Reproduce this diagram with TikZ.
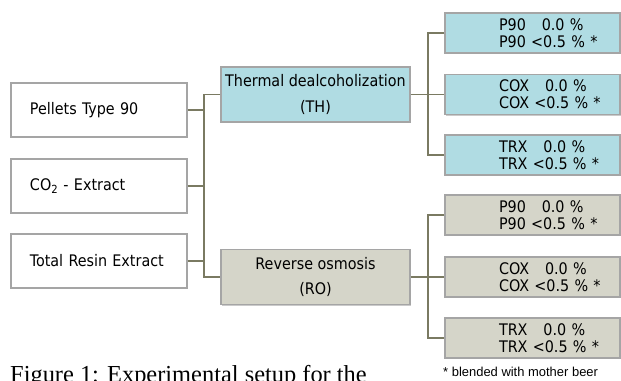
\documentclass[tikz,border=0pt]{standalone}
\usepackage{fontspec}
\setmainfont{DejaVu Sans Condensed}
\newfontfamily\capfont{Liberation Serif}
\newfontfamily\notefont{Liberation Sans}
\usetikzlibrary{shadows}
\definecolor{boxborder}{RGB}{165,165,165}
\definecolor{thfill}{RGB}{176,220,227}
\definecolor{rofill}{RGB}{213,213,201}
\definecolor{linkcol}{RGB}{122,122,98}
\tikzset{
  basebox/.style={draw=boxborder, line width=1.4bp, inner sep=0pt,
    drop shadow={shadow xshift=1.2bp, shadow yshift=-1.2bp, opacity=0.35, fill=black!60}},
  srcbox/.style={basebox, fill=white, minimum width=176bp, minimum height=54bp,
    text width=176bp, align=left, font=\fontsize{16}{18}\selectfont},
  procbox/.style={basebox, minimum width=189bp, minimum height=55bp,
    align=center, font=\fontsize{16}{26}\selectfont},
  resbox/.style={basebox, minimum width=175bp, minimum height=40bp,
    text width=175bp, align=left, font=\fontsize{16}{17}\selectfont},
  link/.style={draw=linkcol, line width=1.2bp},
}
\newcommand{\srcind}{\hspace*{19bp}}
\newcommand{\resind}{\hspace*{54bp}}
\begin{document}
\begin{tikzpicture}[x=1bp,y=-1bp]
\useasboundingbox (0,0) rectangle (621,380);
\clip (0,0) rectangle (621,380);
% source boxes
\node[srcbox] (pel) at (99,110) {\srcind Pellets Type 90};
\node[srcbox] (co2) at (99,186) {\srcind CO\textsubscript{2} - Extract};
\node[srcbox] (tre) at (99,261) {\srcind Total Resin Extract};
% process boxes
\node[procbox, fill=thfill] (th) at (315.5,94.5) {Thermal dealcoholization\\(TH)};
\node[procbox, fill=rofill] (ro) at (315.5,277) {Reverse osmosis\\(RO)};
% result boxes TH
\node[resbox, fill=thfill] (thp) at (532.5,33) {\resind P90\ \ \ 0.0 \%\\\resind P90 <0.5 \% *};
\node[resbox, fill=thfill] (thc) at (532.5,94.5) {\resind COX\ \ \ 0.0 \%\\\resind COX <0.5 \% *};
\node[resbox, fill=thfill] (tht) at (532.5,155) {\resind TRX\ \ \ 0.0 \%\\\resind TRX <0.5 \% *};
% result boxes RO
\node[resbox, fill=rofill] (rop) at (532.5,215) {\resind P90\ \ \ 0.0 \%\\\resind P90 <0.5 \% *};
\node[resbox, fill=rofill] (roc) at (532.5,277) {\resind COX\ \ \ 0.0 \%\\\resind COX <0.5 \% *};
\node[resbox, fill=rofill] (rot) at (532.5,338) {\resind TRX\ \ \ 0.0 \%\\\resind TRX <0.5 \% *};
% left connectors
\coordinate (jl) at (204,0);
\draw[link] (pel.east) -- (pel.east -| jl);
\draw[link] (co2.east) -- (co2.east -| jl);
\draw[link] (tre.east) -- (tre.east -| jl);
\draw[link] (th.west) -- (th.west -| jl) -- (ro.west -| jl) -- (ro.west);
% right connectors
\coordinate (jr) at (428,0);
\draw[link] (th.east) -- (thc.west);
\draw[link] (thp.west) -- (thp.west -| jr) -- (tht.west -| jr) -- (tht.west);
\draw[link] (ro.east) -- (roc.west);
\draw[link] (rop.west) -- (rop.west -| jr) -- (rot.west -| jr) -- (rot.west);
% footnote and caption
\node[anchor=base west, font=\notefont\fontsize{13}{15}\selectfont, inner sep=0pt] (note) at (443,376) {* blended with mother beer};
\node[anchor=base west, font=\capfont\fontsize{24.5}{28}\selectfont, inner sep=0pt] (cap) at (10,382) {Figure 1: Experimental setup for the};
\end{tikzpicture}
\end{document}
